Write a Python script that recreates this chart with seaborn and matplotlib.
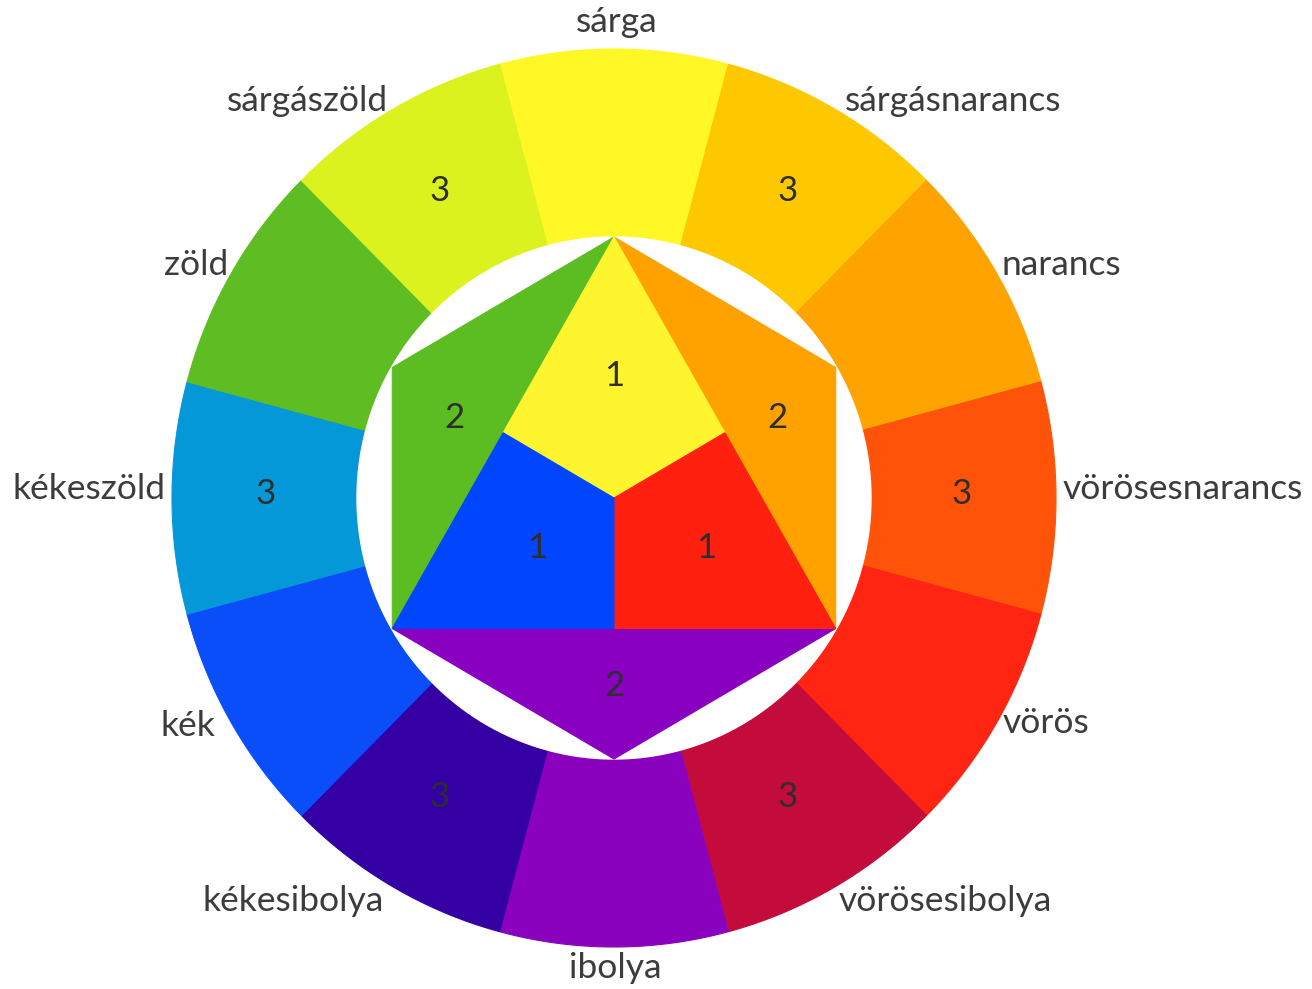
import numpy as np
import matplotlib
matplotlib.use("Agg")
import matplotlib.pyplot as plt
import seaborn as sns

# ---- data ----
hue_names = ["sárga", "sárgásnarancs", "narancs", "vörösesnarancs", "vörös",
             "vörösesibolya", "ibolya", "kékesibolya", "kék", "kékeszöld",
             "zöld", "sárgászöld"]
hue_colors = ["#FFF726", "#FEC800", "#FFA300", "#FF5309", "#FF2512",
              "#C30B3C", "#8A02BE", "#3500A3", "#0A4EFA", "#0598D8",
              "#5EBD22", "#DBF21E"]
ring_orders = ["", "3", "", "3", "", "3", "", "3", "", "3", "", "3"]

primary_names = ["sárga", "vörös", "kék"]
primary_colors = ["#FFF52E", "#FF2010", "#0046FF"]
secondary_names = ["narancs", "ibolya", "zöld"]
secondary_colors = ["#FFA200", "#8A00C0", "#5CBD22"]

# ---- layout ----
W, H = 1312, 989
cx, cy = 614, 498
r_out_x, r_out_y = 442, 449
r_in_x, r_in_y = 257, 261
r_hex_x, r_hex_y = 256, 261
label_pos = [(617, 22), (953, 101), (1061, 265), (1183, 489), (1046, 723),
             (945, 901), (615, 968), (293, 901), (188, 726), (89, 489),
             (196, 265), (307, 101)]
text_color = "#3c3c3c"
num_color = "#2e2e2e"
label_size = 25.5
num_size = 25

sns.set_style("white")
plt.rcParams['font.family'] = ['Lato', 'DejaVu Sans']

fig = plt.figure(figsize=(W / 100, H / 100), dpi=100)
ax = fig.add_axes([0, 0, 1, 1])
ax.set_xlim(0, W)
ax.set_ylim(H, 0)
ax.axis("off")


def pt(ang_deg, rx, ry):
    a = np.deg2rad(ang_deg)
    return cx + rx * np.cos(a), cy - ry * np.sin(a)


# outer ring
for i, (name, col, num) in enumerate(zip(hue_names, hue_colors, ring_orders)):
    mid = 90 - 30 * i
    angs = np.linspace(mid + 15, mid - 15, 60)
    ox, oy = pt(angs, r_out_x, r_out_y)
    ix, iy = pt(angs[::-1], r_in_x, r_in_y)
    ax.fill(np.concatenate([ox, ix]), np.concatenate([oy, iy]),
            color=col, lw=0.8, ec=col, zorder=1)
    if num:
        tx, ty = pt(mid, 348, 350)
        ax.text(tx, ty - 4, num, ha="center", va="center", fontsize=num_size,
                color=num_color, zorder=5)
    lx, ly = label_pos[i]
    ax.text(lx, ly, name, ha="center", va="center", fontsize=label_size,
            color=text_color, zorder=5)

# white inner disc
angs = np.linspace(0, 360, 200)
wx, wy = pt(angs, r_in_x, r_in_y)
ax.fill(wx, wy, color="white", zorder=2)

# hexagon vertices (top, upper-right, lower-right, bottom, lower-left, upper-left)
hex_angles = [90, 30, -30, -90, -150, 150]
hv = [pt(a, r_hex_x, r_hex_y) for a in hex_angles]
T, UR, LR, B, LL, UL = hv
C = ((T[0] + LR[0] + LL[0]) / 3, (T[1] + LR[1] + LL[1]) / 3)
mid_l = ((T[0] + LL[0]) / 2, (T[1] + LL[1]) / 2)
mid_r = ((T[0] + LR[0]) / 2, (T[1] + LR[1]) / 2)
mid_b = ((LL[0] + LR[0]) / 2, (LL[1] + LR[1]) / 2)

# secondary triangles
sec_polys = [[T, UR, LR], [LL, LR, B], [T, UL, LL]]
sec_lab = [(777, 418), (614, 686), (454, 418)]
for poly, col, lp in zip(sec_polys, secondary_colors, sec_lab):
    xs, ys = zip(*poly)
    ax.fill(xs, ys, color=col, ec=col, lw=0.8, zorder=3)
    ax.text(lp[0], lp[1], "2", ha="center", va="center", fontsize=num_size,
            color=num_color, zorder=6)

# primary regions
prim_polys = [[T, mid_r, C, mid_l], [mid_r, LR, mid_b, C], [mid_l, C, mid_b, LL]]
prim_lab = [(614, 376), (706, 548), (537, 548)]
for poly, col, lp in zip(prim_polys, primary_colors, prim_lab):
    xs, ys = zip(*poly)
    ax.fill(xs, ys, color=col, ec=col, lw=0.8, zorder=4)
    ax.text(lp[0], lp[1], "1", ha="center", va="center", fontsize=num_size,
            color=num_color, zorder=6)

fig.savefig("out.png", dpi=100, facecolor="white")
